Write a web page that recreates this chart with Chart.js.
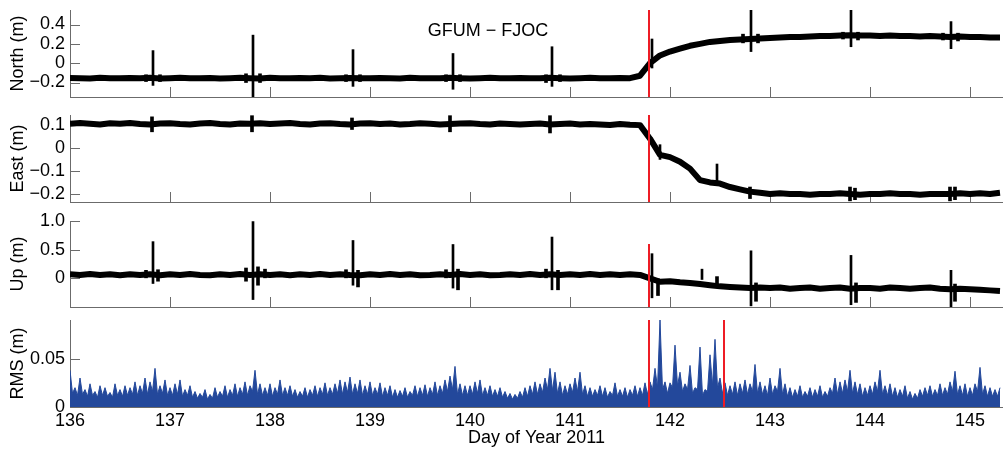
<!doctype html>
<html lang="en">
<head>
<meta charset="UTF-8" />
<title>GFUM - FJOC</title>
<script src="https://cdn.jsdelivr.net/npm/chart.js"></script>
<style>
  body { margin: 0; background: #fff; }
  #wrap { position: relative; width: 1003px; height: 450px; overflow: hidden; background: #fff; }
  #wrap canvas { position: absolute; left: 0; }
  #title {
    position: absolute; left: 388px; top: 19px; width: 200px;
    text-align: center; font: 18px "Liberation Sans", Arial, sans-serif; line-height: 22px; color: #000;
  }
</style>
</head>
<body>
<div id="wrap">
  <canvas id="north" width="1003" height="119" style="top:-6px"></canvas>
  <canvas id="east" width="1003" height="119" style="top:99px"></canvas>
  <canvas id="up" width="1003" height="118" style="top:205px"></canvas>
  <canvas id="rms" width="1003" height="146" style="top:304px"></canvas>
  <div id="title">GFUM − FJOC</div>
</div>
<script>
// sampling of the position series (days) and of the rms series
const sampleStart = 136
const posStep = 0.1
const rmsStep = 0.05

const dayTicks = [136, 137, 138, 139, 140, 141, 142, 143, 144, 145]
const dayTickLabels = ['136', '137', '138', '139', '140', '141', '142', '143', '144', '145']
const dayMin = 136
const dayMax = 145.33

const eventDay = 141.79
const clusterEndDay = 142.54

// North (m)
const northVals = [
  -0.153, -0.155, -0.158, -0.152, -0.155, -0.157, -0.153, -0.155, -0.152, -0.158,
  -0.155, -0.152, -0.157, -0.155, -0.153, -0.158, -0.155, -0.152, -0.155, -0.158,
  -0.152, -0.155, -0.157, -0.153, -0.155, -0.152, -0.158, -0.155, -0.153, -0.155,
  -0.157, -0.153, -0.155, -0.158, -0.152, -0.155, -0.157, -0.155, -0.152, -0.155,
  -0.158, -0.155, -0.152, -0.157, -0.155, -0.153, -0.157, -0.155, -0.152, -0.155,
  -0.158, -0.155, -0.152, -0.157, -0.155, -0.153, -0.155, -0.13, 0.0, 0.08,
  0.12, 0.15, 0.18, 0.2, 0.22, 0.23, 0.24, 0.245, 0.25, 0.255,
  0.26, 0.265, 0.27, 0.27, 0.275, 0.28, 0.28, 0.285, 0.29, 0.285,
  0.285, 0.28, 0.285, 0.28, 0.28, 0.275, 0.28, 0.275, 0.27, 0.275,
  0.27, 0.27, 0.265, 0.265
]
// [day, low, high]
const northSpikes = [
  [136.83, -0.23, 0.13], [137.83, -0.35, 0.29], [138.83, -0.24, 0.14],
  [139.83, -0.27, 0.1], [140.82, -0.24, 0.17], [141.82, -0.05, 0.25],
  [142.81, 0.12, 0.55], [143.81, 0.17, 0.55], [144.81, 0.15, 0.43]
]
const northBumps = [
  [136.76, -0.19, -0.12], [136.9, -0.19, -0.12],
  [137.76, -0.2, -0.11], [137.9, -0.2, -0.11],
  [138.76, -0.19, -0.12], [138.9, -0.19, -0.12],
  [139.76, -0.19, -0.12], [139.9, -0.19, -0.12],
  [140.76, -0.2, -0.12], [140.9, -0.19, -0.12],
  [142.73, 0.21, 0.3], [142.88, 0.21, 0.3],
  [143.73, 0.25, 0.32], [143.88, 0.24, 0.32],
  [144.73, 0.24, 0.31], [144.88, 0.23, 0.31]
]
const northTicks = [-0.2, 0, 0.2, 0.4]
const northTickLabels = ['\u22120.2', '0', '0.2', '0.4']

// East (m)
const eastVals = [
  0.105, 0.108, 0.105, 0.102, 0.107, 0.105, 0.108, 0.104, 0.102, 0.106,
  0.107, 0.104, 0.102, 0.106, 0.108, 0.104, 0.102, 0.106, 0.105, 0.107,
  0.104, 0.106, 0.108, 0.104, 0.102, 0.106, 0.107, 0.104, 0.102, 0.106,
  0.107, 0.104, 0.106, 0.102, 0.104, 0.107, 0.105, 0.102, 0.104, 0.106,
  0.107, 0.104, 0.102, 0.106, 0.104, 0.102, 0.104, 0.106, 0.102, 0.104,
  0.106, 0.102, 0.104, 0.102, 0.1, 0.104, 0.101, 0.099, 0.04, -0.03,
  -0.04, -0.06, -0.09, -0.14, -0.15, -0.155, -0.17, -0.18, -0.19, -0.195,
  -0.2, -0.197, -0.2, -0.2, -0.203, -0.2, -0.2, -0.197, -0.2, -0.203,
  -0.2, -0.2, -0.197, -0.2, -0.2, -0.203, -0.2, -0.2, -0.2, -0.197,
  -0.2, -0.197, -0.2, -0.195
]
const eastSpikes = [
  [141.9, -0.05, 0.014], [142.47, -0.16, -0.07]
]
const eastBumps = [
  [136.82, 0.07, 0.135], [137.82, 0.07, 0.14], [138.82, 0.08, 0.13],
  [139.8, 0.07, 0.14], [140.8, 0.065, 0.14],
  [142.8, -0.22, -0.17], [143.8, -0.23, -0.17], [143.85, -0.225, -0.175],
  [144.8, -0.23, -0.17], [144.85, -0.225, -0.17]
]
const eastTicks = [-0.2, -0.1, 0, 0.1]
const eastTickLabels = ['\u22120.2', '\u22120.1', '0', '0.1']

// Up (m)
const upVals = [
  0.07, 0.06, 0.075, 0.06, 0.07, 0.055, 0.07, 0.06, 0.07, 0.055,
  0.07, 0.06, 0.075, 0.06, 0.055, 0.07, 0.06, 0.075, 0.06, 0.07,
  0.06, 0.07, 0.055, 0.07, 0.06, 0.075, 0.06, 0.07, 0.06, 0.055,
  0.07, 0.06, 0.075, 0.06, 0.07, 0.055, 0.06, 0.07, 0.06, 0.075,
  0.06, 0.07, 0.055, 0.06, 0.07, 0.06, 0.075, 0.06, 0.07, 0.06,
  0.07, 0.06, 0.075, 0.06, 0.07, 0.06, 0.07, 0.06, 0.0, -0.06,
  -0.05, -0.07, -0.08, -0.1, -0.12, -0.14, -0.15, -0.16, -0.17, -0.16,
  -0.17, -0.16, -0.18, -0.17, -0.16, -0.18, -0.17, -0.16, -0.18, -0.17,
  -0.17, -0.18, -0.16, -0.17, -0.18, -0.17, -0.16, -0.18, -0.19, -0.18,
  -0.19, -0.2, -0.21, -0.22
]
const upSpikes = [
  [136.83, -0.09, 0.64], [137.83, -0.37, 0.99], [138.83, -0.12, 0.66],
  [139.83, -0.17, 0.59], [140.82, -0.2, 0.72], [141.82, -0.34, 0.43],
  [142.32, -0.02, 0.16], [142.81, -0.48, 0.48], [143.81, -0.46, 0.4],
  [144.81, -0.5, 0.14]
]
const upBumps = [
  [136.76, 0.0, 0.14], [136.88, -0.05, 0.15],
  [137.76, -0.05, 0.18], [137.88, -0.12, 0.2], [137.95, 0.0, 0.16],
  [138.76, 0.0, 0.15], [138.88, -0.15, 0.14],
  [139.76, 0.0, 0.15], [139.88, -0.2, 0.16],
  [140.76, 0.0, 0.16], [140.88, -0.2, 0.14],
  [141.88, -0.3, 0.0], [142.47, -0.12, 0.03],
  [142.86, -0.4, -0.08], [143.86, -0.42, -0.08], [144.85, -0.4, -0.1]
]
const upTicks = [0, 0.5, 1.0]
const upTickLabels = ['0', '0.5', '1.0']
const upEventTop = 0.6

// RMS (m): local peaks every 0.05 day and the dips between them
const rmsPeaks = [
  0.038, 0.02, 0.03, 0.018, 0.024, 0.016, 0.022, 0.02, 0.015, 0.024, 0.018, 0.022, 0.02, 0.026, 0.022, 0.03, 0.026, 0.04, 0.022, 0.028,
  0.02, 0.024, 0.028, 0.018, 0.022, 0.016, 0.014, 0.018, 0.013, 0.02, 0.016, 0.022, 0.018, 0.024, 0.02, 0.026, 0.022, 0.038, 0.024, 0.02,
  0.024, 0.02, 0.028, 0.02, 0.022, 0.018, 0.016, 0.02, 0.018, 0.022, 0.02, 0.025, 0.02, 0.024, 0.028, 0.026, 0.031, 0.024, 0.028, 0.022,
  0.026, 0.02, 0.025, 0.02, 0.022, 0.018, 0.017, 0.02, 0.016, 0.022, 0.02, 0.023, 0.02, 0.026, 0.022, 0.028, 0.032, 0.042, 0.024, 0.022,
  0.022, 0.026, 0.028, 0.02, 0.022, 0.018, 0.02, 0.016, 0.014, 0.013, 0.016, 0.02, 0.022, 0.026, 0.024, 0.03, 0.04, 0.036, 0.026, 0.022,
  0.024, 0.03, 0.036, 0.022, 0.02, 0.018, 0.022, 0.02, 0.016, 0.025, 0.018, 0.02, 0.018, 0.022, 0.02, 0.025, 0.026, 0.04, 0.09, 0.026,
  0.025, 0.064, 0.036, 0.024, 0.043, 0.02, 0.062, 0.018, 0.054, 0.07, 0.03, 0.025, 0.022, 0.026, 0.024, 0.028, 0.024, 0.044, 0.026, 0.022,
  0.03, 0.022, 0.04, 0.024, 0.02, 0.018, 0.022, 0.016, 0.02, 0.018, 0.022, 0.016, 0.02, 0.03, 0.026, 0.028, 0.038, 0.026, 0.024, 0.02,
  0.022, 0.026, 0.038, 0.022, 0.024, 0.02, 0.018, 0.022, 0.016, 0.014, 0.018, 0.02, 0.022, 0.018, 0.024, 0.02, 0.026, 0.037, 0.022, 0.024,
  0.02, 0.024, 0.041, 0.022, 0.02, 0.018, 0.02
]
const rmsDips = [
  0.014, 0.012, 0.013, 0.011, 0.012, 0.01, 0.012, 0.011, 0.01, 0.012, 0.011, 0.012, 0.013, 0.012, 0.014, 0.013, 0.016, 0.013, 0.014, 0.012,
  0.012, 0.013, 0.011, 0.012, 0.01, 0.009, 0.01, 0.008, 0.009, 0.01, 0.011, 0.01, 0.012, 0.011, 0.013, 0.012, 0.016, 0.013, 0.012, 0.012,
  0.011, 0.013, 0.012, 0.012, 0.011, 0.01, 0.011, 0.01, 0.012, 0.011, 0.013, 0.012, 0.013, 0.014, 0.013, 0.015, 0.013, 0.014, 0.012, 0.013,
  0.012, 0.013, 0.011, 0.012, 0.01, 0.01, 0.011, 0.01, 0.012, 0.011, 0.012, 0.011, 0.013, 0.012, 0.014, 0.016, 0.018, 0.013, 0.012, 0.012,
  0.013, 0.014, 0.012, 0.012, 0.011, 0.011, 0.01, 0.009, 0.008, 0.009, 0.01, 0.011, 0.013, 0.013, 0.015, 0.018, 0.017, 0.014, 0.012, 0.013,
  0.015, 0.016, 0.013, 0.011, 0.011, 0.012, 0.011, 0.01, 0.012, 0.011, 0.011, 0.01, 0.012, 0.011, 0.012, 0.013, 0.018, 0.02, 0.018, 0.014,
  0.02, 0.022, 0.016, 0.018, 0.014, 0.018, 0.012, 0.016, 0.022, 0.02, 0.014, 0.012, 0.013, 0.012, 0.014, 0.013, 0.016, 0.014, 0.013, 0.012,
  0.013, 0.016, 0.013, 0.011, 0.01, 0.011, 0.01, 0.011, 0.01, 0.011, 0.01, 0.011, 0.014, 0.013, 0.014, 0.016, 0.014, 0.013, 0.011, 0.012,
  0.013, 0.016, 0.013, 0.012, 0.011, 0.01, 0.011, 0.009, 0.008, 0.009, 0.011, 0.012, 0.011, 0.012, 0.012, 0.013, 0.016, 0.013, 0.012, 0.011,
  0.012, 0.016, 0.013, 0.011, 0.011, 0.011
]
const rmsTicks = [0, 0.05]
const rmsTickLabels = ['0', '0.05']

const FONT = '"Liberation Sans", Arial, sans-serif'
const axisColor = '#6b6b6b'
const lineColor = '#000000'
const rmsColor = '#23489b'
const eventColor = '#ee1c25'

// tick marks drawn inside the axes, like the original figure
const innerTicks = {
  id: 'innerTicks',
  beforeDatasetsDraw(chart) {
    const { ctx, chartArea: a, scales } = chart
    ctx.save()
    ctx.strokeStyle = axisColor
    ctx.lineWidth = 1
    ctx.beginPath()
    scales.x.ticks.forEach((t) => {
      const px = Math.round(scales.x.getPixelForValue(t.value)) + 0.5
      ctx.moveTo(px, a.bottom)
      ctx.lineTo(px, a.bottom - 10)
    })
    scales.y.ticks.forEach((t) => {
      const py = Math.round(scales.y.getPixelForValue(t.value)) + 0.5
      ctx.moveTo(a.left, py)
      ctx.lineTo(a.left + 10, py)
    })
    ctx.stroke()
    ctx.restore()
  }
}

function series(vals, step) {
  return vals.map((v, i) => ({ x: sampleStart + i * step, y: v }))
}

// peaks and the dips between them, merged in time order
function rmsSeries() {
  const pts = []
  rmsPeaks.forEach((v, i) => {
    pts.push({ x: sampleStart + i * rmsStep, y: v })
    if (i < rmsDips.length) pts.push({ x: sampleStart + (i + 0.5) * rmsStep, y: rmsDips[i] })
  })
  return pts
}

function vline(day, y0, y1) {
  return {
    type: 'line',
    data: [{ x: day, y: y0 }, { x: day, y: y1 }],
    borderColor: eventColor,
    borderWidth: 2,
    pointRadius: 0,
    order: 0
  }
}

function barSet(list, thickness) {
  return {
    type: 'bar',
    data: list.map((s) => ({ x: s[0], y: [s[1], s[2]] })),
    backgroundColor: lineColor,
    borderWidth: 0,
    barThickness: thickness,
    grouped: false,
    order: 1
  }
}

function makePanel(id, p) {
  const datasets = p.redLines.map((r) => vline(r[0], r[1], r[2]))
  if (p.spikes) datasets.push(barSet(p.spikes, 2))
  if (p.bumps) datasets.push(barSet(p.bumps, 3))
  datasets.push(p.line)

  return new Chart(document.getElementById(id), {
    type: 'line',
    data: { datasets },
    options: {
      responsive: false,
      animation: false,
      events: [],
      layout: { padding: { top: 16, bottom: p.last ? 0 : 16, left: 0, right: 0 } },
      plugins: { legend: { display: false }, tooltip: { enabled: false } },
      scales: {
        x: {
          type: 'linear',
          min: dayMin,
          max: dayMax,
          offset: false,
          afterBuildTicks: (s) => { s.ticks = dayTicks.map((v) => ({ value: v })) },
          afterFit: (s) => { s.height = p.last ? 43 : 0 },
          grid: { display: true, drawOnChartArea: false, drawTicks: false },
          border: { display: true, color: axisColor, width: 1 },
          ticks: {
            display: !!p.last,
            autoSkip: false,
            maxRotation: 0,
            padding: 3,
            color: '#000',
            font: { family: FONT, size: 18 },
            callback: (v, i) => dayTickLabels[i]
          },
          title: {
            display: !!p.last,
            text: 'Day of Year 2011',
            color: '#000',
            font: { family: FONT, size: 18 },
            padding: { top: 0, bottom: 1 }
          }
        },
        y: {
          type: 'linear',
          min: p.yMin,
          max: p.yMax,
          afterBuildTicks: (s) => { s.ticks = p.ticks.map((v) => ({ value: v })) },
          afterFit: (s) => { s.width = 70 },
          grid: { display: true, drawOnChartArea: false, drawTicks: false },
          border: { display: true, color: axisColor, width: 1 },
          ticks: {
            padding: 5,
            color: '#000',
            font: { family: FONT, size: 18 },
            callback: (v, i) => p.tickLabels[i]
          },
          title: {
            display: true,
            text: p.title,
            color: '#000',
            font: { family: FONT, size: 18 },
            padding: { top: 7, bottom: 0 }
          }
        }
      }
    },
    plugins: [innerTicks]
  })
}

function bandLine(vals) {
  return {
    type: 'line',
    data: series(vals, posStep),
    borderColor: lineColor,
    borderWidth: 6,
    borderJoinStyle: 'round',
    pointRadius: 0,
    tension: 0,
    order: 2
  }
}

makePanel('north', {
  yMin: -0.35, yMax: 0.55,
  ticks: northTicks, tickLabels: northTickLabels, title: 'North (m)',
  spikes: northSpikes, bumps: northBumps,
  line: bandLine(northVals),
  redLines: [[eventDay, -0.35, 0.55]]
})

makePanel('east', {
  yMin: -0.235, yMax: 0.143,
  ticks: eastTicks, tickLabels: eastTickLabels, title: 'East (m)',
  spikes: eastSpikes, bumps: eastBumps,
  line: bandLine(eastVals),
  redLines: [[eventDay, -0.235, 0.143]]
})

makePanel('up', {
  yMin: -0.5, yMax: 1.0,
  ticks: upTicks, tickLabels: upTickLabels, title: 'Up (m)',
  spikes: upSpikes, bumps: upBumps,
  line: bandLine(upVals),
  redLines: [[eventDay, -0.5, upEventTop]]
})

makePanel('rms', {
  yMin: 0, yMax: 0.09,
  ticks: rmsTicks, tickLabels: rmsTickLabels, title: 'RMS (m)',
  last: true,
  line: {
    type: 'line',
    data: rmsSeries(),
    borderColor: rmsColor,
    backgroundColor: rmsColor,
    borderWidth: 1,
    fill: 'origin',
    pointRadius: 0,
    tension: 0,
    order: 2
  },
  redLines: [[eventDay, 0, 0.09], [clusterEndDay, 0, 0.09]]
})
</script>
</body>
</html>
